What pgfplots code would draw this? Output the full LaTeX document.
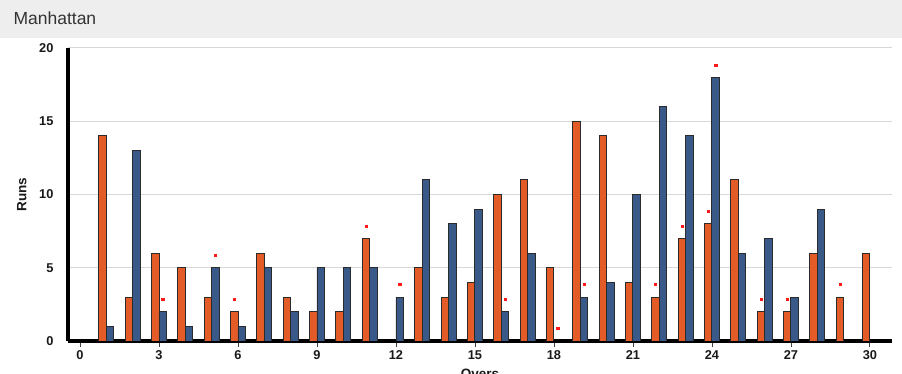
\documentclass[border=0pt]{standalone}
\usepackage{pgfplots}
\pgfplotsset{compat=1.18}
\usepackage{fontspec}
\setmainfont{Liberation Sans}
\definecolor{teamA}{HTML}{E35B27}
\definecolor{teamB}{HTML}{395A88}
\definecolor{barEdge}{HTML}{2B2B2B}
\definecolor{gridc}{HTML}{D8D8D8}
\definecolor{band}{HTML}{EEEEEE}
\definecolor{wkt}{HTML}{FF1A1A}
\begin{document}
\begin{tikzpicture}[x=1pt,y=1pt]
\useasboundingbox (0,0) rectangle (902,374);
\fill[band] (0,336) rectangle (902,374);
\node[anchor=west,text=black!80,font=\fontsize{17.5}{20}\selectfont] at (10,356) {Manhattan};
\begin{axis}[
  at={(68pt,33pt)}, anchor=south west,
  scale only axis, width=824pt, height=293pt,
  xmin=-0.456, xmax=30.84, ymin=0, ymax=20,
  axis lines*=left,
  axis line style={line width=4pt,-},
  xtick={0,3,...,30}, ytick={0,5,10,15,20},
  ymajorgrids, grid style={gridc,line width=1pt},
  tick align=outside,
  major tick length=6pt,
  xtick style={draw=black!75,line width=0.8pt},
  ytick style={draw=none},
  /pgf/number format/assume math mode=true,
  tick label style={font=\fontsize{12.8}{14}\selectfont\bfseries,text=black!90},
  yticklabel style={anchor=east,xshift=-5pt},
  xticklabel style={yshift=-0.5pt},
  xlabel={Overs}, ylabel={Runs},
  label style={font=\fontsize{13.5}{15}\selectfont\bfseries,text=black!90},
  xlabel style={at={(axis description cs:0.5,0)},anchor=north,yshift=-25pt},
  ylabel style={at={(axis description cs:-0.056,0.5)},anchor=center},
]
\addplot[ybar, bar width=7.4pt, bar shift=-3.7pt, fill=teamA, draw=barEdge, line width=0.9pt] coordinates {
(1,14) (2,3) (3,6) (4,5) (5,3) (6,2) (7,6) (8,3) (9,2) (10,2)
(11,7) (13,5) (14,3) (15,4) (16,10) (17,11) (18,5) (19,15) (20,14)
(21,4) (22,3) (23,7) (24,8) (25,11) (26,2) (27,2) (28,6) (29,3) (30,6)};
\addplot[ybar, bar width=7.4pt, bar shift=3.7pt, fill=teamB, draw=barEdge, line width=0.9pt] coordinates {
(1,1) (2,13) (3,2) (4,1) (5,5) (6,1) (7,5) (8,2) (9,5) (10,5)
(11,5) (12,3) (13,11) (14,8) (15,9) (16,2) (17,6) (19,3) (20,4)
(21,10) (22,16) (23,14) (24,18) (25,6) (26,7) (27,3) (28,9)};
\addplot[only marks, mark=square*, mark size=1.1pt, color=wkt, xshift=-3.7pt] coordinates {
(6,2.85) (11,7.85) (22,3.85) (23,7.85) (24,8.85) (26,2.85) (27,2.85) (29,3.85)};
\addplot[only marks, mark=square*, mark size=1.1pt, color=wkt, xshift=3.7pt] coordinates {
(3,2.85) (5,5.85) (12,3.85) (16,2.85) (18,0.85) (19,3.85) (24,18.85)};
\end{axis}
\end{tikzpicture}
\end{document}
